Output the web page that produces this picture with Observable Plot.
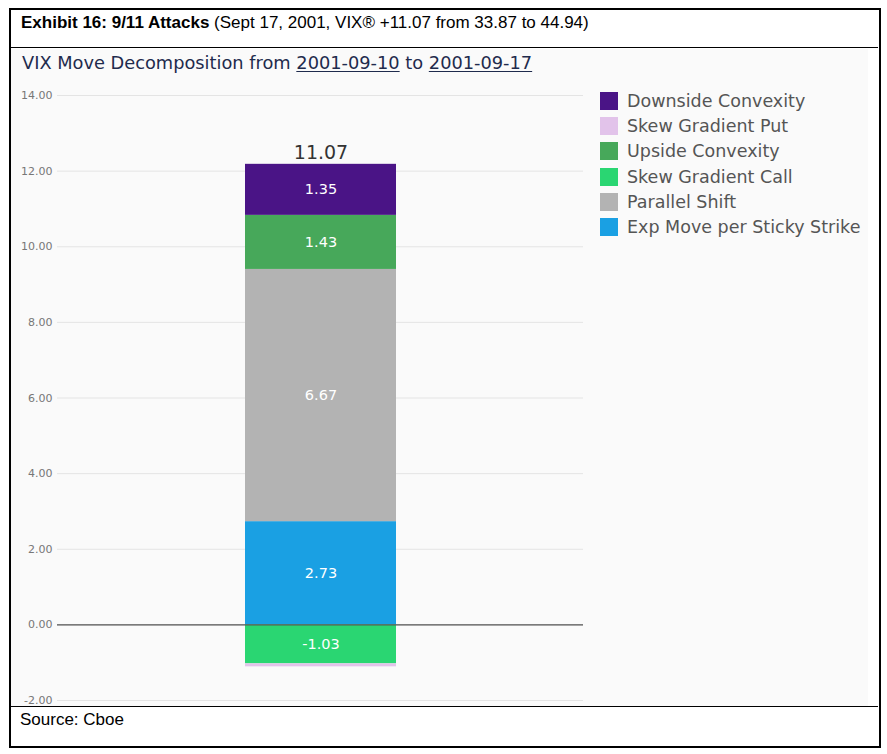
<!DOCTYPE html>
<html>
<head>
<meta charset="utf-8">
<script src="https://cdn.jsdelivr.net/npm/d3@7"></script>
<script src="https://cdn.jsdelivr.net/npm/@observablehq/plot@0.6"></script>
<style>
  html, body { margin: 0; padding: 0; background: #fff; }
  #page { position: relative; width: 887px; height: 754px; overflow: hidden; }
  #frame { position: absolute; left: 9px; top: 8px; width: 868px; height: 736px; border: 2px solid #000; box-sizing: content-box; }
  #hdr { position: absolute; left: 10px; top: 9px; width: 868px; height: 38px; border-bottom: 1.5px solid #000; }
  #hdr span { position: absolute; left: 11px; top: 4px; font-family: "Liberation Sans", Arial, sans-serif; font-size: 17px; color: #000; white-space: nowrap; }
  #panel { position: absolute; left: 11px; top: 49px; width: 857px; height: 657px; background: #fafafa; }
  #foot { position: absolute; left: 10px; top: 706px; width: 868px; height: 39px; border-top: 1.5px solid #000; }
  #foot span { position: absolute; left: 10px; top: 3px; font-family: "Liberation Sans", Arial, sans-serif; font-size: 17px; color: #000; }
  #title { position: absolute; left: 22px; top: 52px; font-family: "DejaVu Sans", sans-serif; font-size: 17.8px; color: #1f2b4d; white-space: nowrap; }
  #title u { text-decoration-thickness: 1px; text-underline-offset: 2px; }
  #chart { position: absolute; left: 10px; top: 80px; }
  #legend { position: absolute; left: 600px; top: 88px; font-family: "DejaVu Sans", sans-serif; font-size: 17.5px; color: #555; }
  #legend .row { height: 25.3px; display: flex; align-items: center; white-space: nowrap; }
  #legend .sw { width: 18px; height: 18px; margin-right: 9px; flex: none; }
</style>
</head>
<body>
<div id="page">
  <div id="panel"></div>
  <div id="frame"></div>
  <div id="hdr"><span><b>Exhibit 16: 9/11 Attacks</b> (Sept 17, 2001, VIX® +11.07 from 33.87 to 44.94)</span></div>
  <div id="title">VIX Move Decomposition from <u>2001-09-10</u> to <u>2001-09-17</u></div>
  <div id="chart"></div>
  <div id="legend"></div>
  <div id="foot"><span>Source: Cboe</span></div>
</div>
<script>
// Data
const components = ["Exp Move per Sticky Strike", "Skew Gradient Call", "Parallel Shift", "Upside Convexity", "Skew Gradient Put", "Downside Convexity"];
const values = [2.73, -1.03, 6.67, 1.43, -0.08, 1.35];
const colors = ["#1aa0e3", "#2ad672", "#b3b3b3", "#47a85a", "#e2c3ea", "#4a1486"];
const legendOrder = ["Downside Convexity", "Skew Gradient Put", "Upside Convexity", "Skew Gradient Call", "Parallel Shift", "Exp Move per Sticky Strike"];
const totalMove = 11.07;
const yTicks = [-2, 0, 2, 4, 6, 8, 10, 12, 14];

const rows = components.map((c, i) => ({cat: "move", component: c, value: values[i]}));
const topOfStack = d3.sum(values.filter(v => v > 0));
const totals = [{cat: "move", top: topOfStack, label: totalMove.toFixed(2)}];

const chart = Plot.plot({
  width: 580,
  height: 630,
  marginTop: 15,
  marginBottom: 10,
  marginLeft: 47,
  marginRight: 7,
  style: {background: "transparent", fontFamily: "DejaVu Sans, sans-serif"},
  x: {axis: null, domain: ["move"], padding: 0.554},
  y: {domain: [-2, 14], ticks: yTicks, tickFormat: d => d.toFixed(2), tickSize: 0, tickPadding: 6, label: null},
  color: {domain: components, range: colors},
  marks: [
    Plot.gridY(yTicks, {stroke: "#e4e4e4", strokeOpacity: 1, strokeWidth: 1}),
    Plot.axisY(yTicks, {tickSize: 0, tickPadding: 5, tickFormat: d => d.toFixed(2), fontSize: 11, fill: "#777", label: null}),
    Plot.barY(rows, {x: "cat", y: "value", fill: "component", order: null}),
    Plot.ruleY([0], {stroke: "#555", strokeWidth: 1.2}),
    Plot.text(rows.filter(d => Math.abs(d.value) >= 0.5), Plot.stackY({x: "cat", y: "value", text: d => d.value.toFixed(2), fill: "white", fontSize: 14.5, order: null})),
    Plot.text(totals, {x: "cat", y: "top", text: "label", dy: -11, fontSize: 19, fill: "#333"})
  ]
});
document.getElementById("chart").appendChild(chart);

const legend = document.getElementById("legend");
legendOrder.forEach(name => {
  const row = document.createElement("div");
  row.className = "row";
  const sw = document.createElement("div");
  sw.className = "sw";
  sw.style.background = colors[components.indexOf(name)];
  const t = document.createElement("span");
  t.textContent = name;
  row.appendChild(sw);
  row.appendChild(t);
  legend.appendChild(row);
});
</script>
</body>
</html>
